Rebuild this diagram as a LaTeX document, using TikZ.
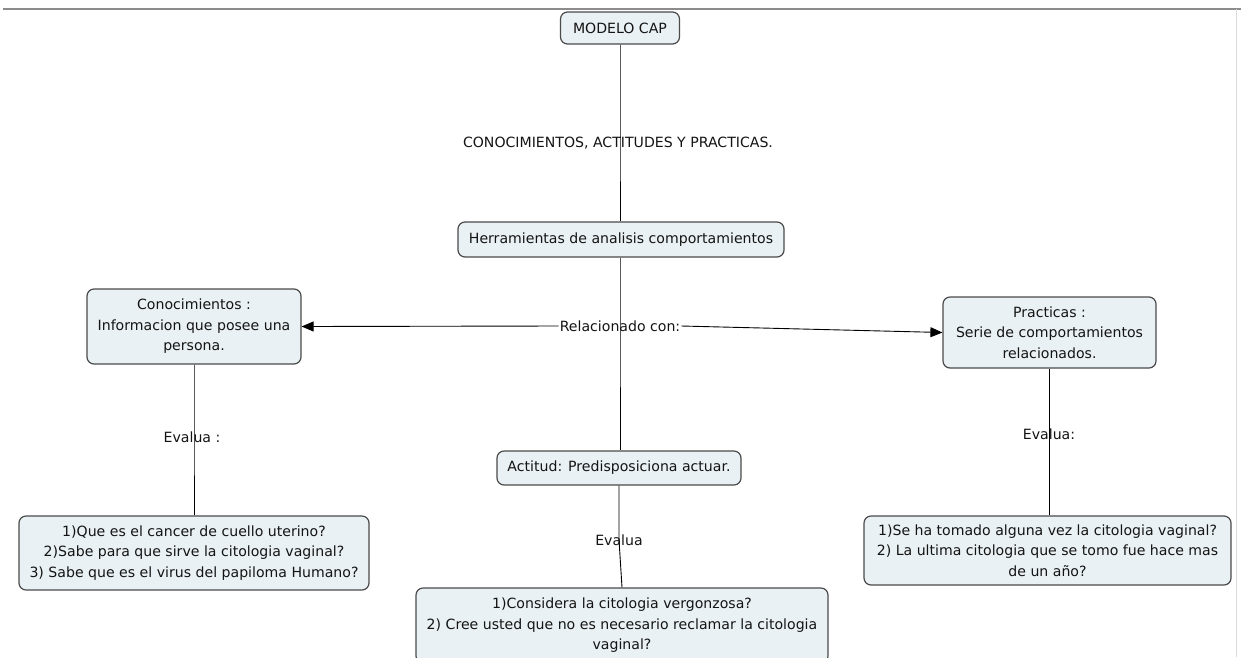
\documentclass[tikz,border=0pt]{standalone}
\usepackage{fontspec}
\setmainfont{DejaVu Sans}
\usetikzlibrary{arrows.meta}
\definecolor{cajafondo}{HTML}{EAF1F4}
\definecolor{cajaborde}{HTML}{4A4A4A}
\definecolor{marco}{HTML}{8C8C8C}
\begin{document}
\begin{tikzpicture}[x=1pt,y=-1pt,
    concepto/.style={draw=cajaborde,fill=cajafondo,line width=1.2pt,rounded corners=7pt,
      align=center,inner xsep=6pt,inner ysep=3pt,text=black!92,
      font=\fontsize{14.1}{20.5}\selectfont},
    enlace/.style={inner sep=1pt,text=black!92,font=\fontsize{14.1}{20.5}\selectfont},
    conector/.style={draw=black,line width=0.9pt},
    flecha/.style={conector,-{Triangle[length=12pt,width=10pt]}}]
\clip (0,0) rectangle (1241,657);
% borde de la captura
\draw[marco,line width=1.2pt] (3,9) -- (1241,9);
\draw[black!15,line width=1pt] (1236,9) -- (1236,657);

% conceptos
\node[concepto,minimum width=119pt,minimum height=32pt] (modelo) at (620,28) {MODELO CAP};
\node[concepto,minimum width=326pt,minimum height=35pt] (herram) at (621,239.5) {Herramientas de analisis comportamientos};
\node[concepto,minimum width=214pt,minimum height=75pt] (conoc) at (194,326.5) {Conocimientos :\\Informacion que posee una\\persona.};
\node[concepto,minimum width=213pt,minimum height=71pt] (pract) at (1049.5,332.5) {Practicas :\\Serie de comportamientos\\relacionados.};
\node[concepto,minimum width=244pt,minimum height=34pt] (actit) at (619,468) {Actitud: Predisposiciona actuar.};
\node[concepto,minimum width=350pt,minimum height=74pt] (pregC) at (194,553) {1)Que es el cancer de cuello uterino?\\2)Sabe para que sirve la citologia vaginal?\\3) Sabe que es el virus del papiloma Humano?};
\node[concepto,minimum width=412pt,minimum height=75pt] (pregA) at (622,625.5) {1)Considera la citologia vergonzosa?\\2) Cree usted que no es necesario reclamar la citologia\\vaginal?};
\node[concepto,minimum width=367pt,minimum height=69pt] (pregP) at (1047.5,550.5) {1)Se ha tomado alguna vez la citologia vaginal?\\2) La ultima citologia que se tomo fue hace mas\\de un año?};

% frases de enlace
\node[enlace] (cap) at (618,143) {CONOCIMIENTOS, ACTITUDES Y PRACTICAS.};
\node[enlace] (relac) at (620,326) {Relacionado con:};
\node[enlace] (evalC) at (192,437) {Evalua :};
\node[enlace] (evalA) at (619,540) {Evalua};
\node[enlace] (evalP) at (1049,434) {Evalua:};

% lineas
\draw[conector] (modelo.south) -- (cap.center -| modelo.south) -- (herram.north -| modelo.south);
\draw[conector] (herram.south -| relac.center) -- (relac.center) -- (actit.north -| relac.center);
\draw[flecha] (relac.west) -- (conoc.east);
\draw[flecha] (relac.east) -- (pract.west);
\draw[conector] (conoc.south) -- (evalC.center -| conoc.south) -- (pregC.north);
\draw[conector] (actit.south) -- (evalA.center) -- (pregA.north);
\draw[conector] (pract.south) -- (pregP.north -| pract.south);
\end{tikzpicture}
\end{document}
